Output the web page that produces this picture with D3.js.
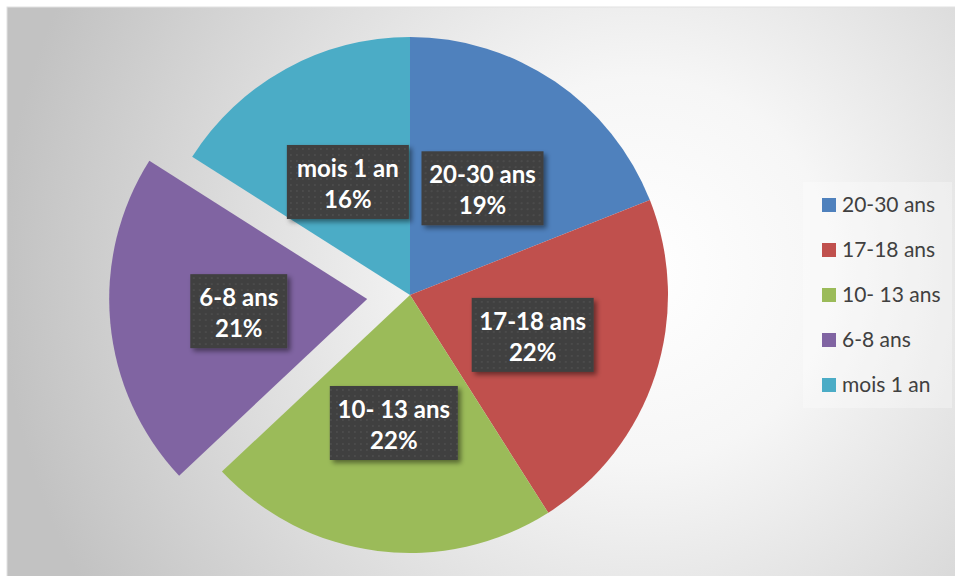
<!DOCTYPE html>
<meta charset="utf-8">
<title>Répartition par âge</title>
<script src="https://d3js.org/d3.v7.min.js"></script>
<style>
body { margin: 0; background: #fff; }
.lbl { font-family: Lato, "Open Sans", sans-serif; font-weight: bold; font-size: 24px; fill: #fff; }
.leg { font-family: Lato, "Open Sans", sans-serif; font-size: 21px; fill: #404040; }
</style>
<body>
<div id="chart"></div>
<script>
// data
var categories = ["20-30 ans", "17-18 ans", "10- 13 ans", "6-8 ans", "mois 1 an"];
var values = [19, 22, 22, 21, 16];
var colors = ["#4f81bd", "#c0504d", "#9bbb59", "#8064a2", "#4bacc6"];
var exploded = ["6-8 ans"];

var width = 955, height = 576;
var cx = 410, cy = 295, radius = 258, explodeBy = 43;

var svg = d3.select("#chart").append("svg")
  .attr("width", width)
  .attr("height", height);

var defs = svg.append("defs");

// background gradient
var grad = defs.append("radialGradient")
  .attr("id", "bg")
  .attr("gradientUnits", "userSpaceOnUse")
  .attr("cx", 640).attr("cy", 270).attr("r", 640);
grad.append("stop").attr("offset", 0).attr("stop-color", "#ffffff");
grad.append("stop").attr("offset", 0.3).attr("stop-color", "#f6f6f6");
grad.append("stop").attr("offset", 1).attr("stop-color", "#c2c2c2");

// dotted fill for the labels
var pat = defs.append("pattern")
  .attr("id", "dots")
  .attr("patternUnits", "userSpaceOnUse")
  .attr("width", 6).attr("height", 6);
pat.append("rect").attr("width", 6).attr("height", 6).attr("fill", "#3f3f3f");
pat.append("rect").attr("x", 2).attr("y", 2).attr("width", 2).attr("height", 2).attr("fill", "#4c4c4c");

var shadow = defs.append("filter").attr("id", "shadow")
  .attr("x", "-20%").attr("y", "-20%").attr("width", "140%").attr("height", "150%");
shadow.append("feDropShadow")
  .attr("dx", 3).attr("dy", 3).attr("stdDeviation", 2.5)
  .attr("flood-color", "#000").attr("flood-opacity", 0.45);

svg.append("rect")
  .attr("x", 7).attr("y", 7)
  .attr("width", width).attr("height", height)
  .attr("fill", "url(#bg)")
  .attr("stroke", "#e2e2e2");

var data = categories.map(function (c, i) { return { name: c, value: values[i], color: colors[i] }; });

var pie = d3.pie().sort(null).value(function (d) { return d.value; });
var arcs = pie(data);

var arc = d3.arc().innerRadius(0).outerRadius(radius);

function shift(d) {
  if (exploded.indexOf(d.data.name) < 0) return [0, 0];
  var a = (d.startAngle + d.endAngle) / 2;
  return [Math.sin(a) * explodeBy, -Math.cos(a) * explodeBy];
}

var g = svg.append("g").attr("transform", "translate(" + cx + "," + cy + ")");

g.selectAll("path.slice")
  .data(arcs)
  .enter()
  .append("path")
    .attr("class", "slice")
    .attr("d", arc)
    .attr("fill", function (d) { return d.data.color; })
    .attr("transform", function (d) { var s = shift(d); return "translate(" + s[0] + "," + s[1] + ")"; });

// data labels
var boxW = { "20-30 ans": 122, "17-18 ans": 122, "10- 13 ans": 128, "6-8 ans": 97, "mois 1 an": 122 };
var labels = g.selectAll("g.label")
  .data(arcs)
  .enter()
  .append("g")
    .attr("class", "label")
    .attr("transform", function (d) {
      var c = arc.centroid(d), s = shift(d);
      return "translate(" + (c[0] + s[0]) + "," + (c[1] + s[1]) + ")";
    });

labels.append("rect")
  .attr("x", function (d) { return -boxW[d.data.name] / 2; })
  .attr("y", -37)
  .attr("width", function (d) { return boxW[d.data.name]; })
  .attr("height", 74)
  .attr("fill", "url(#dots)")
  .attr("filter", "url(#shadow)");

labels.append("text")
  .attr("class", "lbl")
  .attr("text-anchor", "middle")
  .attr("y", -5)
  .text(function (d) { return d.data.name; });

labels.append("text")
  .attr("class", "lbl")
  .attr("text-anchor", "middle")
  .attr("y", 26)
  .text(function (d) { return d.data.value + "%"; });

// legend
var legend = svg.append("g").attr("transform", "translate(803,182)");
legend.append("rect")
  .attr("width", 149).attr("height", 226)
  .attr("fill", "#ffffff").attr("fill-opacity", 0.3);

var rows = legend.selectAll("g.row")
  .data(data)
  .enter()
  .append("g")
    .attr("class", "row")
    .attr("transform", function (d, i) { return "translate(19," + (23 + i * 45) + ")"; });

rows.append("rect")
  .attr("y", -7).attr("width", 14).attr("height", 14)
  .attr("fill", function (d) { return d.color; });

rows.append("text")
  .attr("class", "leg")
  .attr("x", 20)
  .attr("dy", "0.35em")
  .text(function (d) { return d.name; });
</script>
</body>
